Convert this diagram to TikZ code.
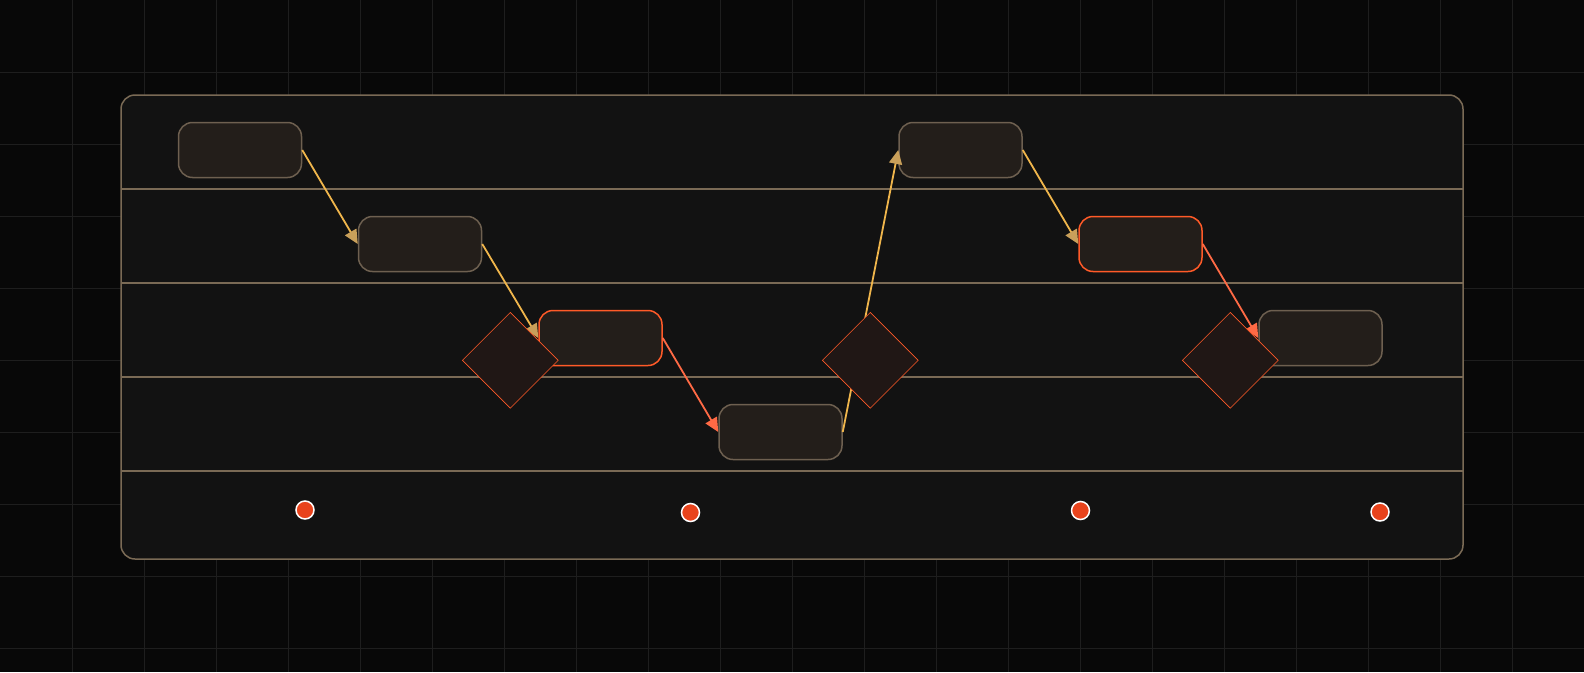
\documentclass[tikz,border=0pt]{standalone}
\usetikzlibrary{arrows.meta,shapes.geometric}
\definecolor{bgc}{HTML}{080808}
\definecolor{gridc}{HTML}{1E1E1E}
\definecolor{panelc}{HTML}{121212}
\definecolor{rimc}{HTML}{7A6A55}
\definecolor{boxfill}{HTML}{231E1A}
\definecolor{boxrim}{HTML}{6E6050}
\definecolor{hot}{HTML}{FF5A28}
\definecolor{gold}{HTML}{F0B64C}
\definecolor{goldtip}{HTML}{C9A05A}
\definecolor{redline}{HTML}{FF6A45}
\definecolor{dmdfill}{HTML}{201715}
\definecolor{dotc}{HTML}{E8431C}
\tikzset{
  stepbox/.style={draw=boxrim,fill=boxfill,line width=1.5pt,rounded corners=14pt,
    minimum width=123pt,minimum height=55pt,inner sep=0pt},
  hotbox/.style={stepbox,draw=hot},
  gate/.style={diamond,draw=hot,fill=dmdfill,line width=0.6pt,minimum width=96pt,
    minimum height=96pt,aspect=1,inner sep=0pt},
  goldarrow/.style={draw=gold,line width=1.8pt,-{Triangle[length=14pt,width=13pt,fill=goldtip,color=goldtip]}},
  redarrow/.style={draw=redline,line width=1.8pt,-{Triangle[length=14pt,width=13pt]}},
  marker/.style={circle,fill=dotc,draw=white,line width=1.5pt,minimum size=18pt,inner sep=0pt},
  lane/.style={draw=rimc,line width=1.5pt}
}
\begin{document}
\begin{tikzpicture}[x=1pt,y=-1pt]
\useasboundingbox (0,0) rectangle (1584,672);
\fill[bgc] (0,0) rectangle (1584,672);
\foreach \gx in {72,144,...,1512} \draw[gridc,line width=1pt] (\gx,0) -- (\gx,672);
\foreach \gy in {72,144,...,648} \draw[gridc,line width=1pt] (0,\gy) -- (1584,\gy);
\draw[fill=panelc,draw=rimc,line width=1.5pt,rounded corners=14pt] (121,95) rectangle (1463,559);
\foreach \ly in {189,283,377,471} \draw[lane] (121,\ly) -- (1463,\ly);
% steps
\node[stepbox] (n1) at (240,150) {};
\node[stepbox] (n2) at (420,244) {};
\node[hotbox]  (n3) at (600.5,338) {};
\node[stepbox] (n4) at (780.5,432) {};
\node[stepbox] (n5) at (960.5,150) {};
\node[hotbox]  (n6) at (1140.5,244) {};
\node[stepbox] (n7) at (1320.5,338) {};
% connectors
\draw[goldarrow] (n1.east) -- (n2.west);
\draw[goldarrow] (n2.east) -- (n3.west);
\draw[redarrow]  (n3.east) -- (n4.west);
\draw[goldarrow] (n4.east) -- (n5.west);
\draw[goldarrow] (n5.east) -- (n6.west);
\draw[redarrow]  (n6.east) -- (n7.west);
% gates
\node[gate] (g1) at (510.3,360.3) {};
\node[gate] (g2) at (870.3,360.3) {};
\node[gate] (g3) at (1230.3,360.3) {};
% markers
\node[marker] (m1) at (305,510) {};
\node[marker] (m2) at (690.5,512.5) {};
\node[marker] (m3) at (1080.5,510.5) {};
\node[marker] (m4) at (1380,512) {};
\end{tikzpicture}
\end{document}
